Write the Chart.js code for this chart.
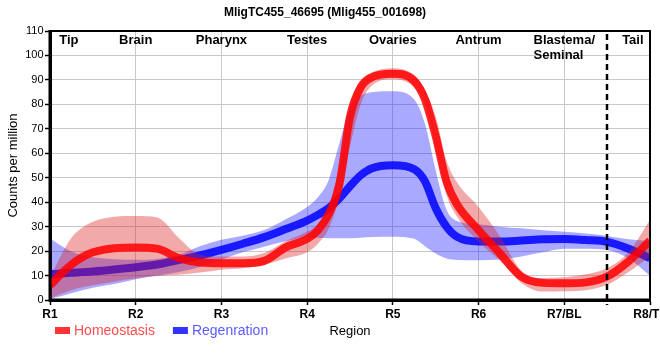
<!DOCTYPE html>
<html>
<head>
<meta charset="utf-8">
<script src="https://cdn.jsdelivr.net/npm/chart.js@4/dist/chart.umd.min.js"></script>
<style>
html,body{margin:0;padding:0;background:#fff;}
#wrap{width:660px;height:360px;position:relative;}
</style>
</head>
<body>
<div id="wrap"><canvas id="c" width="660" height="360"></canvas></div>
<script>
// ---------- data ----------
const chartTitle = 'MligTC455_46695 (Mlig455_001698)';
const xTickLabels = ['R1','R2','R3','R4','R5','R6','R7/BL','R8/TL'];
const regionNames = ['Tip','Brain','Pharynx','Testes','Ovaries','Antrum',['Blastema/','Seminal'],'Tail'];
const regionPos = [1.22, 2, 3, 4, 5, 6, 7, 7.8];
const dividerX = 7.5;

const xs = [1, 1.125, 1.25, 1.375, 1.5, 1.75, 2, 2.25, 2.5, 2.75, 3, 3.25, 3.5, 3.75, 4, 4.125, 4.25, 4.375, 4.5, 4.625, 4.75, 5, 5.25, 5.375, 5.5, 5.625, 5.75, 6, 6.25, 6.5, 6.75, 7, 7.25, 7.5, 7.75, 8];

const homeoMean  = [6, 10.5, 14.5, 17.5, 19.5, 21.2, 21.5, 21, 17.2, 15.3, 15, 15, 16, 21.5, 25, 28.5, 35, 47, 75, 87, 91, 92.5, 89.5, 82, 67, 48.5, 39, 28.6, 19, 9.5, 7, 6.8, 7.2, 9.6, 15.8, 24.3];
const homeoUpper = [9, 18, 25.5, 29.5, 32, 34, 34.3, 33.7, 25.5, 18.5, 17.8, 17.8, 19.2, 24, 28, 31, 38, 55, 80, 89.5, 93, 94.8, 92, 86, 75, 57, 48, 38, 26, 12, 9, 9.3, 10.5, 13, 19.5, 32.8];
const homeoLower = [0.7, 2.5, 4, 5.2, 6, 7.5, 8.9, 9.8, 10.3, 11.2, 12.4, 13, 14.5, 17, 19.5, 23, 29, 42, 62.6, 80, 87.5, 90.3, 87, 80, 62, 43, 34, 23.8, 16, 7, 3.5, 3.6, 4, 6.2, 11.5, 17.8];

const regenMean  = [10.5, 10.8, 11.1, 11.4, 11.7, 12.5, 13.4, 14.5, 16.3, 18.2, 20.5, 23, 25.7, 29, 32.5, 34.8, 37.5, 41.5, 46.5, 51, 53.8, 55.1, 53.5, 48.5, 37.5, 30, 25.8, 23.9, 23.9, 24.3, 24.8, 24.9, 24.5, 23.8, 21, 17.1];
const regenUpper = [25.3, 22.3, 19.8, 18.3, 17.5, 16.7, 16.5, 16.8, 18.5, 22, 24.6, 26.3, 28.6, 33, 38, 42, 49, 64, 78.5, 83.5, 85, 85.4, 82, 72, 53, 37, 32.3, 31, 30, 29.3, 28.5, 27.9, 27.2, 26.2, 24.8, 24];
const regenLower = [0.5, 1.5, 2.8, 4, 5, 6.5, 8.5, 10, 11.5, 13.5, 16.5, 19.5, 21.8, 24, 25.5, 25.5, 25.3, 25.3, 25.3, 25.5, 25.8, 25.9, 25, 22, 19, 17, 16.4, 16.3, 16.6, 17.8, 19.5, 21, 21, 20.4, 17, 10];

// ---------- styling ----------
const FONT = "'Liberation Sans', Arial, Helvetica, sans-serif";
const RED_LINE = 'rgba(255,0,0,0.85)';
const RED_BAND = 'rgba(220,30,30,0.38)';
const BLUE_LINE = 'rgba(0,0,255,0.85)';
const BLUE_BAND = 'rgba(40,40,255,0.4)';
const legendItems = [
  {text:'Homeostasis', box:'#ff3333', color:'#ff4d4d'},
  {text:'Regenration', box:'#3333ff', color:'#5c5cff'}
];

Chart.defaults.font.family = FONT;
const toPts = arr => xs.map((x, i) => ({x: x, y: arr[i]}));
const common = {pointRadius:0, pointHoverRadius:0, cubicInterpolationMode:'monotone', borderJoinStyle:'round'};

const decor = {
  id: 'decor',
  afterDatasetsDraw(chart) {
    const {ctx, chartArea: a, scales: {x}} = chart;
    ctx.save();
    // dashed divider
    const dx = Math.round(x.getPixelForValue(dividerX));
    ctx.strokeStyle = '#000';
    ctx.lineWidth = 2.5;
    ctx.setLineDash([6, 4]);
    ctx.beginPath();
    ctx.moveTo(dx, a.top + 3);
    ctx.lineTo(dx, a.bottom + 5);
    ctx.stroke();
    ctx.setLineDash([]);
    // frame
    ctx.lineWidth = 2;
    ctx.beginPath();
    ctx.moveTo(a.left, a.top);
    ctx.lineTo(a.right, a.top);
    ctx.lineTo(a.right, a.bottom);
    ctx.stroke();
    ctx.lineWidth = 3;
    ctx.beginPath();
    ctx.moveTo(a.left, a.top - 1);
    ctx.lineTo(a.left, a.bottom);
    ctx.lineTo(a.right + 1, a.bottom);
    ctx.stroke();
    // region names
    ctx.font = 'bold 13px ' + FONT;
    ctx.fillStyle = '#000';
    ctx.textBaseline = 'middle';
    ctx.textAlign = 'left';
    regionNames.forEach((n, i) => {
      const lines = Array.isArray(n) ? n : [n];
      const w = Math.max(...lines.map(l => ctx.measureText(l).width));
      const cx = x.getPixelForValue(regionPos[i]);
      lines.forEach((l, j) => ctx.fillText(l, cx - w / 2, a.top + 9 + j * 15));
    });
    ctx.restore();
  },
  afterDraw(chart) {
    const {ctx, chartArea: a} = chart;
    ctx.save();
    const ly = 331;
    ctx.font = '14px ' + FONT;
    ctx.textBaseline = 'middle';
    ctx.textAlign = 'left';
    let lx = 55;
    legendItems.forEach(it => {
      ctx.fillStyle = it.box;
      ctx.fillRect(lx, ly - 4, 15, 7);
      ctx.fillStyle = it.color;
      ctx.fillText(it.text, lx + 19, ly);
      lx += 19 + ctx.measureText(it.text).width + 18;
    });
    ctx.font = '13px ' + FONT;
    ctx.fillStyle = '#000';
    ctx.textAlign = 'center';
    ctx.fillText('Region', (a.left + a.right) / 2, ly);
    ctx.restore();
  }
};

new Chart(document.getElementById('c'), {
  type: 'line',
  data: {
    datasets: [
      Object.assign({label:'Homeostasis', data: toPts(homeoMean), borderColor: RED_LINE, borderWidth: 8, fill: false, order: 0}, common),
      Object.assign({label:'', data: toPts(homeoUpper), borderColor: 'rgba(0,0,0,0)', borderWidth: 0, backgroundColor: RED_BAND, fill: '+1', order: 1}, common),
      Object.assign({label:'', data: toPts(homeoLower), borderColor: 'rgba(0,0,0,0)', borderWidth: 0, fill: false, order: 2}, common),
      Object.assign({label:'Regenration', data: toPts(regenMean), borderColor: BLUE_LINE, borderWidth: 8, fill: false, order: 3}, common),
      Object.assign({label:'', data: toPts(regenUpper), borderColor: 'rgba(0,0,0,0)', borderWidth: 0, backgroundColor: BLUE_BAND, fill: '+1', order: 4}, common),
      Object.assign({label:'', data: toPts(regenLower), borderColor: 'rgba(0,0,0,0)', borderWidth: 0, fill: false, order: 5}, common)
    ]
  },
  options: {
    responsive: false,
    animation: false,
    devicePixelRatio: 1,
    events: [],
    layout: {padding: {left: 0, right: 10, top: 0, bottom: 0}},
    plugins: {
      legend: {display: false},
      tooltip: {enabled: false},
      title: {
        display: true, text: chartTitle, color: '#000',
        font: {size: 12, weight: 'bold'},
        padding: {top: 5, bottom: 11.6}
      }
    },
    scales: {
      x: {
        type: 'linear', min: 1, max: 8,
        afterFit(s) { s.height = 60; s.paddingLeft = 0; s.paddingRight = 0; },
        afterBuildTicks(s) { s.ticks = xTickLabels.map((_, i) => ({value: i + 1})); },
        ticks: {
          autoSkip: false, maxRotation: 0, minRotation: 0, padding: 2, color: '#000',
          font: {size: 12, weight: 'bold'},
          callback: v => xTickLabels[Math.round(v) - 1]
        },
        grid: {color: '#c8c8c8', lineWidth: 1, tickLength: 5, tickColor: '#000', tickWidth: 1.5},
        border: {display: true, color: '#000', width: 3}
      },
      y: {
        min: 0, max: 110,
        afterFit(s) { s.width = 50; s.paddingTop = 0; s.paddingBottom = 0; },
        ticks: {stepSize: 10, padding: 1.5, color: '#000', font: {size: 11}},
        grid: {color: '#c8c8c8', lineWidth: 1, tickLength: 5, tickColor: '#000', tickWidth: 1.5},
        border: {display: true, color: '#000', width: 3},
        title: {display: true, text: 'Counts per million', color: '#000', font: {size: 13}, padding: {top: 5.5, bottom: 0}}
      }
    }
  },
  plugins: [decor]
});
</script>
</body>
</html>
